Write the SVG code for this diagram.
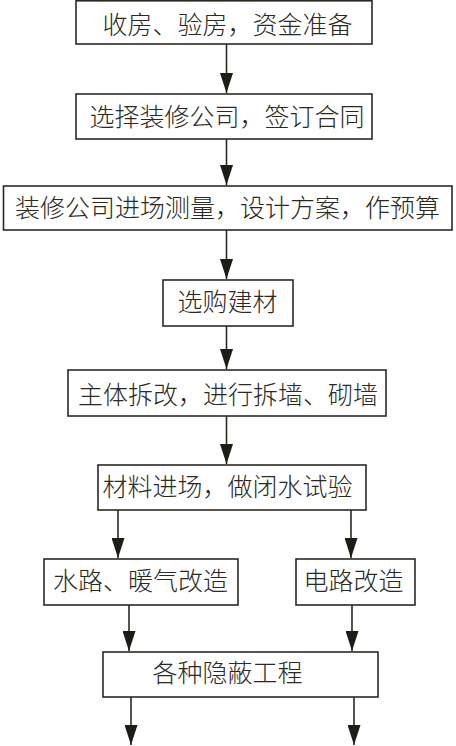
<svg xmlns="http://www.w3.org/2000/svg" width="456" height="746" viewBox="0 0 456 746">
<defs>
<style>
.box{fill:#fff;stroke:#2b2a22;stroke-width:1.6}
.lbl{font-family:"Noto Sans CJK SC","Noto Sans",sans-serif;font-size:25px;font-weight:300;fill:#2b2a22;text-anchor:middle}
.con{stroke:#2b2a22;stroke-width:1.6;fill:none;marker-end:url(#ah)}
</style>
<marker id="ah" viewBox="0 0 20 13" refX="20" refY="6.5" markerWidth="20" markerHeight="13" markerUnits="userSpaceOnUse" orient="auto">
<path d="M0,0 L20,6.5 L0,13 Z" fill="#1e1d15"/>
</marker>
</defs>
<rect width="456" height="746" fill="#fff"/>
<g id="connectors">
<line class="con" x1="226.5" y1="44" x2="226.5" y2="93"/>
<line class="con" x1="226.5" y1="139" x2="226.5" y2="185"/>
<line class="con" x1="226.5" y1="230" x2="226.5" y2="279"/>
<line class="con" x1="226.5" y1="326" x2="226.5" y2="369"/>
<line class="con" x1="226.5" y1="416" x2="226.5" y2="464"/>
<line class="con" x1="118" y1="510" x2="118" y2="558"/>
<line class="con" x1="351" y1="510" x2="351" y2="558"/>
<line class="con" x1="129" y1="605" x2="129" y2="651"/>
<line class="con" x1="352" y1="605" x2="352" y2="651"/>
<line class="con" x1="131" y1="697" x2="131" y2="745"/>
<line class="con" x1="354" y1="697" x2="354" y2="745"/>
</g>
<g id="n1"><rect class="box" x="76" y="0.8" width="296" height="43.2"/><text class="lbl" x="227.5" y="34">收房、验房，资金准备</text></g>
<g id="n2"><rect class="box" x="76" y="94" width="296" height="45"/><text class="lbl" x="227" y="126">选择装修公司，签订合同</text></g>
<g id="n3"><rect class="box" x="3.5" y="186" width="448.5" height="44"/><text class="lbl" x="227.5" y="217">装修公司进场测量，设计方案，作预算</text></g>
<g id="n4"><rect class="box" x="163" y="280" width="130" height="46"/><text class="lbl" x="227.5" y="311">选购建材</text></g>
<g id="n5"><rect class="box" x="68" y="370" width="318" height="46"/><text class="lbl" x="228" y="404">主体拆改，进行拆墙、砌墙</text></g>
<g id="n6"><rect class="box" x="98" y="465" width="268" height="45"/><text class="lbl" x="227.5" y="496">材料进场，做闭水试验</text></g>
<g id="n7"><rect class="box" x="44" y="559" width="194" height="46"/><text class="lbl" x="140.5" y="590">水路、暖气改造</text></g>
<g id="n8"><rect class="box" x="296" y="559" width="119" height="46"/><text class="lbl" x="353.5" y="590">电路改造</text></g>
<g id="n9"><rect class="box" x="103" y="652" width="275" height="45"/><text class="lbl" x="227.5" y="682">各种隐蔽工程</text></g>
</svg>
